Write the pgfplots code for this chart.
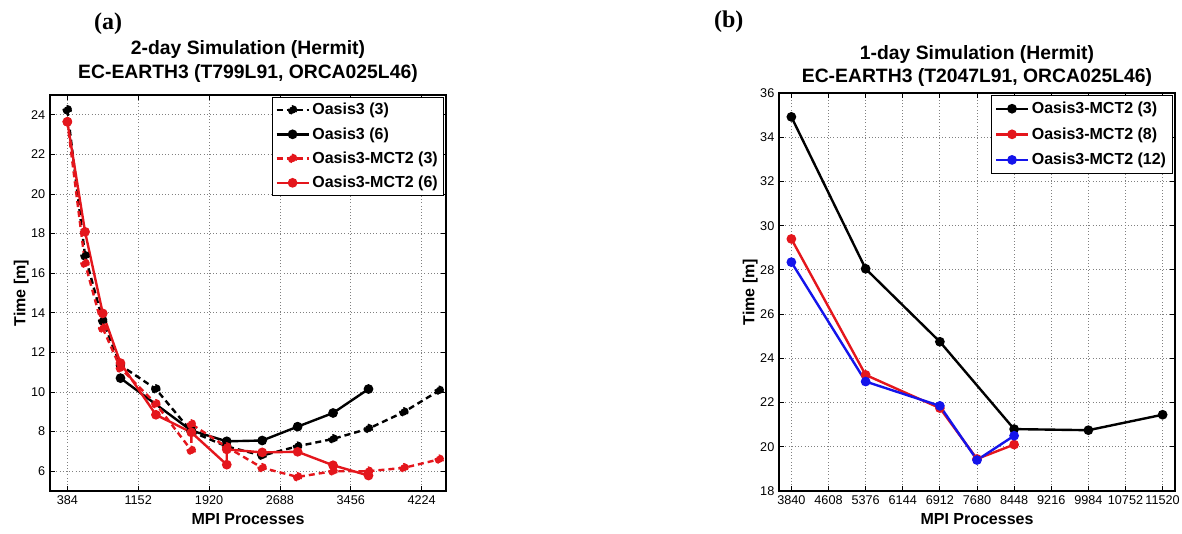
\documentclass[border=0pt]{standalone}
\usepackage{fontspec}
\setmainfont{Liberation Sans}
\newfontfamily\serifbold{Liberation Serif}
\usepackage{pgfplots}
\pgfplotsset{compat=1.18}

\definecolor{mred}{RGB}{228,22,28}
\definecolor{mblue}{RGB}{20,20,235}

\pgfplotsset{
  hermit/.style={
    scale only axis,
    axis line style={line width=0.9pt},
    grid=major,
    grid style={dotted, line width=0.6pt, black!50},
    tick style={black, line width=0.6pt},
    major tick length=3.5pt,
    tick label style={font=\fontsize{9.5}{11}\selectfont},
    /pgf/number format/assume math mode=true,
    /pgf/number format/1000 sep={},
    scaled x ticks=false,
    xlabel={MPI Processes},
    ylabel={Time [m]},
    ylabel shift=-5pt,
    label style={font=\fontsize{12}{14}\selectfont\bfseries},
    title style={font=\fontsize{14.5}{17.5}\selectfont\bfseries, align=center},
    legend style={font=\fontsize{12}{14}\selectfont\bfseries, cells={anchor=west},
      draw=black, inner sep=2pt},
    legend image code/.code={\draw[mark repeat=2,mark phase=2]
      plot coordinates {(0cm,0cm) (0.42cm,0cm) (0.84cm,0cm)};},
    every axis plot/.append style={line width=1.8pt, mark=*, mark size=2.7pt},
  },
  mdash/.style={dash pattern=on 4.5pt off 3pt},
}

\begin{document}
\begin{tikzpicture}
\useasboundingbox (0,0) rectangle (886.5pt,399.75pt);

% (a) T799 two-day runs
\begin{axis}[hermit,
  at={(37.5pt,31.5pt)}, anchor=south west,
  width=297pt, height=297pt,
  title={2-day Simulation (Hermit)\\EC-EARTH3 (T799L91, ORCA025L46)},
  xmin=196, xmax=4488, ymin=5, ymax=25,
  xtick={384,1152,1920,2688,3456,4224},
  ytick={6,8,...,24},
  legend style={at={(0.995,0.995)}, anchor=north east, row sep=4pt, inner sep=2.5pt},
]
\addplot[black, mdash] coordinates {
  (384,24.25) (576,16.88) (768,13.6) (960,11.35) (1344,10.15) (1728,8.0)
  (2112,7.25) (2496,6.79) (2880,7.26) (3264,7.63) (3648,8.15) (4032,8.99) (4416,10.08)};
\addlegendentry{Oasis3 (3)}
\addplot[black] coordinates {
  (960,10.7) (1728,8.05) (2112,7.51) (2496,7.55) (2880,8.25) (3264,8.94) (3648,10.15)};
\addlegendentry{Oasis3 (6)}
\addplot[mred, mdash] coordinates {
  (384,23.65) (576,16.49) (768,13.22) (960,11.2) (1344,9.4) (1728,7.05) (1728,8.38)
  (2112,7.22) (2496,6.17) (2880,5.71) (3264,6.0) (3648,6.0) (4032,6.17) (4416,6.6)};
\addlegendentry{Oasis3-MCT2 (3)}
\addplot[mred] coordinates {
  (384,23.65) (576,18.09) (768,13.97) (960,11.46) (1344,8.85) (1728,7.96)
  (2112,6.33) (2112,7.1) (2496,6.95) (2880,6.98) (3264,6.3) (3648,5.78)};
\addlegendentry{Oasis3-MCT2 (6)}
\end{axis}

% (b) T2047 one-day runs
\begin{axis}[hermit,
  at={(584.25pt,31.5pt)}, anchor=south west,
  width=297pt, height=298.5pt,
  title={1-day Simulation (Hermit)\\EC-EARTH3 (T2047L91, ORCA025L46)},
  title style={yshift=-5pt},
  xmin=3584, xmax=11776, ymin=18, ymax=36,
  xtick={3840,4608,5376,6144,6912,7680,8448,9216,9984,10752,11520},
  ytick={18,20,...,36},
  legend style={at={(0.995,0.995)}, anchor=north east, row sep=5pt, inner sep=3pt},
]
\addplot[black] coordinates {
  (3840,34.92) (5376,28.05) (6912,24.75) (8448,20.8) (9984,20.75) (11520,21.45)};
\addlegendentry{Oasis3-MCT2 (3)}
\addplot[mred] coordinates {
  (3840,29.4) (5376,23.25) (6912,21.75) (7680,19.45) (8448,20.1)};
\addlegendentry{Oasis3-MCT2 (8)}
\addplot[mblue] coordinates {
  (3840,28.35) (5376,22.95) (6912,21.85) (7680,19.4) (8448,20.5)};
\addlegendentry{Oasis3-MCT2 (12)}
\end{axis}

\node[font=\serifbold\fontsize{18}{20}\selectfont\bfseries] at (81pt,382pt) {(a)};
\node[font=\serifbold\fontsize{18}{20}\selectfont\bfseries] at (546.5pt,383.5pt) {(b)};
\end{tikzpicture}
\end{document}
